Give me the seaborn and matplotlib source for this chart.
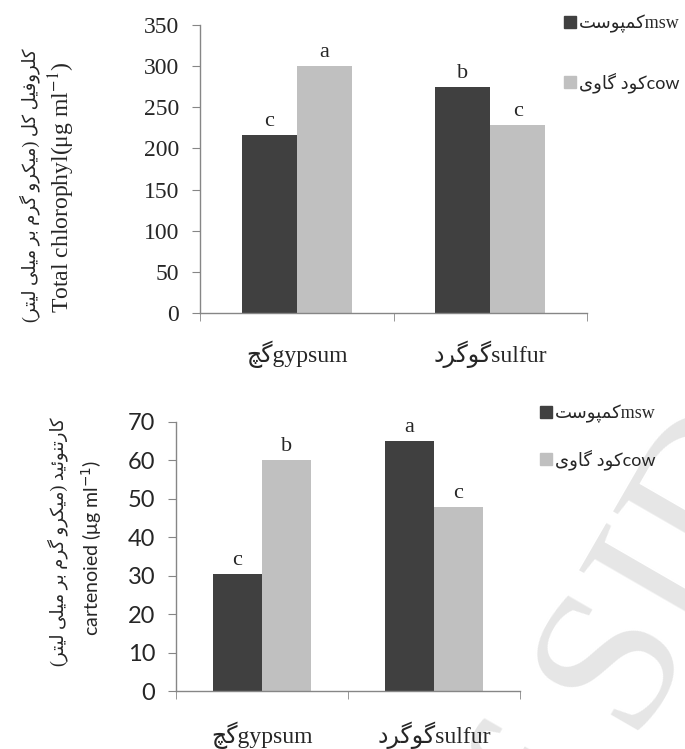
import pandas as pd
import seaborn as sns
import matplotlib.pyplot as plt
from matplotlib.lines import Line2D

# داده ها
amend_en = ["gypsum", "sulfur"]
amend_fa = ["گچ", "گوگرد"]
fert_en = ["msw", "cow"]
fert_fa = ["کمپوست", "کود گاوی"]

chl_msw = [216, 275]
chl_cow = [300, 228]
chl_let_msw = ["c", "b"]
chl_let_cow = ["a", "c"]

car_msw = [30.5, 65]
car_cow = [60, 47.8]
car_let_msw = ["c", "a"]
car_let_cow = ["b", "c"]

chl_label_fa = "کلروفیل کل (میکرو گرم بر میلی لیتر)"
chl_label_en = r"Total chlorophyl(μg ml$^{-1}$)"
car_label_fa = "کارتنوئید (میکرو گرم بر میلی لیتر)"
car_label_en = r"cartenoied (μg ml$^{-1}$)"

dark = "#404040"
light = "#c0c0c0"
axis_gray = "#868686"

# matplotlib does not shape Arabic script, so use presentation forms
FORMS = {
    "ا": ("\uFE8D", "\uFE8E", None, None),
    "ب": ("\uFE8F", "\uFE90", "\uFE91", "\uFE92"),
    "پ": ("\uFB56", "\uFB57", "\uFB58", "\uFB59"),
    "ت": ("\uFE95", "\uFE96", "\uFE97", "\uFE98"),
    "چ": ("\uFB7A", "\uFB7B", "\uFB7C", "\uFB7D"),
    "د": ("\uFEA9", "\uFEAA", None, None),
    "ر": ("\uFEAD", "\uFEAE", None, None),
    "س": ("\uFEB1", "\uFEB2", "\uFEB3", "\uFEB4"),
    "ف": ("\uFED1", "\uFED2", "\uFED3", "\uFED4"),
    "ک": ("\uFB8E", "\uFB8F", "\uFB90", "\uFB91"),
    "گ": ("\uFB92", "\uFB93", "\uFB94", "\uFB95"),
    "ل": ("\uFEDD", "\uFEDE", "\uFEDF", "\uFEE0"),
    "م": ("\uFEE1", "\uFEE2", "\uFEE3", "\uFEE4"),
    "ن": ("\uFEE5", "\uFEE6", "\uFEE7", "\uFEE8"),
    "و": ("\uFEED", "\uFEEE", None, None),
    "ی": ("\uFBFC", "\uFBFD", "\uFBFE", "\uFBFF"),
    "ئ": ("\uFE89", "\uFE8A", "\uFE8B", "\uFE8C"),
}
RIGHT_ONLY = set("ادرو")


def fa(text):
    out = []
    for i, ch in enumerate(text):
        if ch not in FORMS:
            out.append(ch)
            continue
        prev = text[i - 1] if i > 0 else ""
        nxt = text[i + 1] if i + 1 < len(text) else ""
        jp = prev in FORMS and prev not in RIGHT_ONLY
        jn = nxt in FORMS and ch not in RIGHT_ONLY
        iso, fin, ini, med = FORMS[ch]
        out.append(med if jp and jn else fin if jp else ini if jn else iso)
    return "".join(reversed(out)).translate(str.maketrans("()", ")("))


sns.set_style("white")
SERIF = ["Liberation Serif", "DejaVu Sans"]
SANS = ["Lato", "DejaVu Sans"]

fig = plt.figure(figsize=(6.85, 7.49), dpi=100)
W, H = 685, 749


def px(x0, y0, x1, y1):
    return [x0 / W, 1 - y1 / H, (x1 - x0) / W, (y1 - y0) / H]


# watermark (behind everything)
fig.text(620 / W, 1 - 672 / H, "of SID", rotation=60, fontsize=150, color="#e6e6e6",
         family=SERIF, ha="center", va="center", zorder=-5)


def draw(ax, msw, cow, let_msw, let_cow, ymax, step, tick_family, xpad):
    df = pd.DataFrame({
        "amend": amend_en * 2,
        "fert": [fert_en[0]] * 2 + [fert_en[1]] * 2,
        "value": msw + cow,
    })
    sns.barplot(data=df, x="amend", y="value", hue="fert", palette=[dark, light],
                width=0.57, errorbar=None, saturation=1, linewidth=0, legend=False, ax=ax)
    ax.set_facecolor("none")
    ax.bar_label(ax.containers[0], labels=let_msw, padding=3, fontsize=16, family=SERIF)
    ax.bar_label(ax.containers[1], labels=let_cow, padding=3, fontsize=16, family=SERIF)
    ax.set_xlim(-0.5, 1.5)
    ax.set_ylim(0, ymax)
    ax.set_yticks(range(0, ymax + 1, step))
    ax.set_xticks([0, 1])
    ax.set_xticklabels([fa(amend_fa[i]) + amend_en[i] for i in range(2)],
                       family=SERIF, fontsize=17)
    ax.set_xticks([-0.5, 0.5, 1.5], minor=True)
    ax.tick_params(axis="x", which="major", length=0, pad=xpad)
    ax.tick_params(axis="x", which="minor", length=6, color=axis_gray, direction="out", bottom=True)
    ax.tick_params(axis="y", length=6, color=axis_gray, direction="out", left=True,
                   labelsize=17, pad=9)
    for t in ax.get_yticklabels():
        t.set_family(tick_family)
    ax.set_xlabel("")
    ax.set_ylabel("")
    sns.despine(ax=ax)
    for s in ["left", "bottom"]:
        ax.spines[s].set_color(axis_gray)
        ax.spines[s].set_linewidth(1)


def legend(x, y, spacing):
    handles = [Line2D([], [], ls="", marker="s", markersize=8, color=c) for c in (dark, light)]
    labels = [fa(fert_fa[i]) + fert_en[i] for i in range(2)]
    leg = fig.legend(handles, labels, loc="upper left", bbox_to_anchor=(x / W, 1 - y / H),
                     frameon=False, handlelength=0.6, handletextpad=0.15,
                     labelspacing=spacing, fontsize=13, borderpad=0, borderaxespad=0)
    leg.get_texts()[0].set_family(SERIF)
    leg.get_texts()[1].set_family(SANS)


ax1 = fig.add_axes(px(200, 25, 587, 313))
draw(ax1, chl_msw, chl_cow, chl_let_msw, chl_let_cow, 350, 50, SERIF, 20)
legend(565, 15, 2.15)
fig.text(30 / W, 1 - 185 / H, fa(chl_label_fa), rotation=90, ha="center", va="center",
         fontsize=13, family=SERIF)
fig.text(62 / W, 1 - 187 / H, chl_label_en, rotation=90, ha="center", va="center",
         fontsize=17, family=SERIF, math_fontfamily="stix")

ax2 = fig.add_axes(px(176, 422, 520, 691))
draw(ax2, car_msw, car_cow, car_let_msw, car_let_cow, 70, 10, SANS, 22)
legend(541, 405, 1.45)
fig.text(58 / W, 1 - 542 / H, fa(car_label_fa), rotation=90, ha="center", va="center",
         fontsize=13, family=SERIF)
fig.text(92 / W, 1 - 548 / H, car_label_en, rotation=90, ha="center", va="center",
         fontsize=14, family=SANS, math_fontfamily="dejavusans")

fig.savefig("out.png", dpi=100)
